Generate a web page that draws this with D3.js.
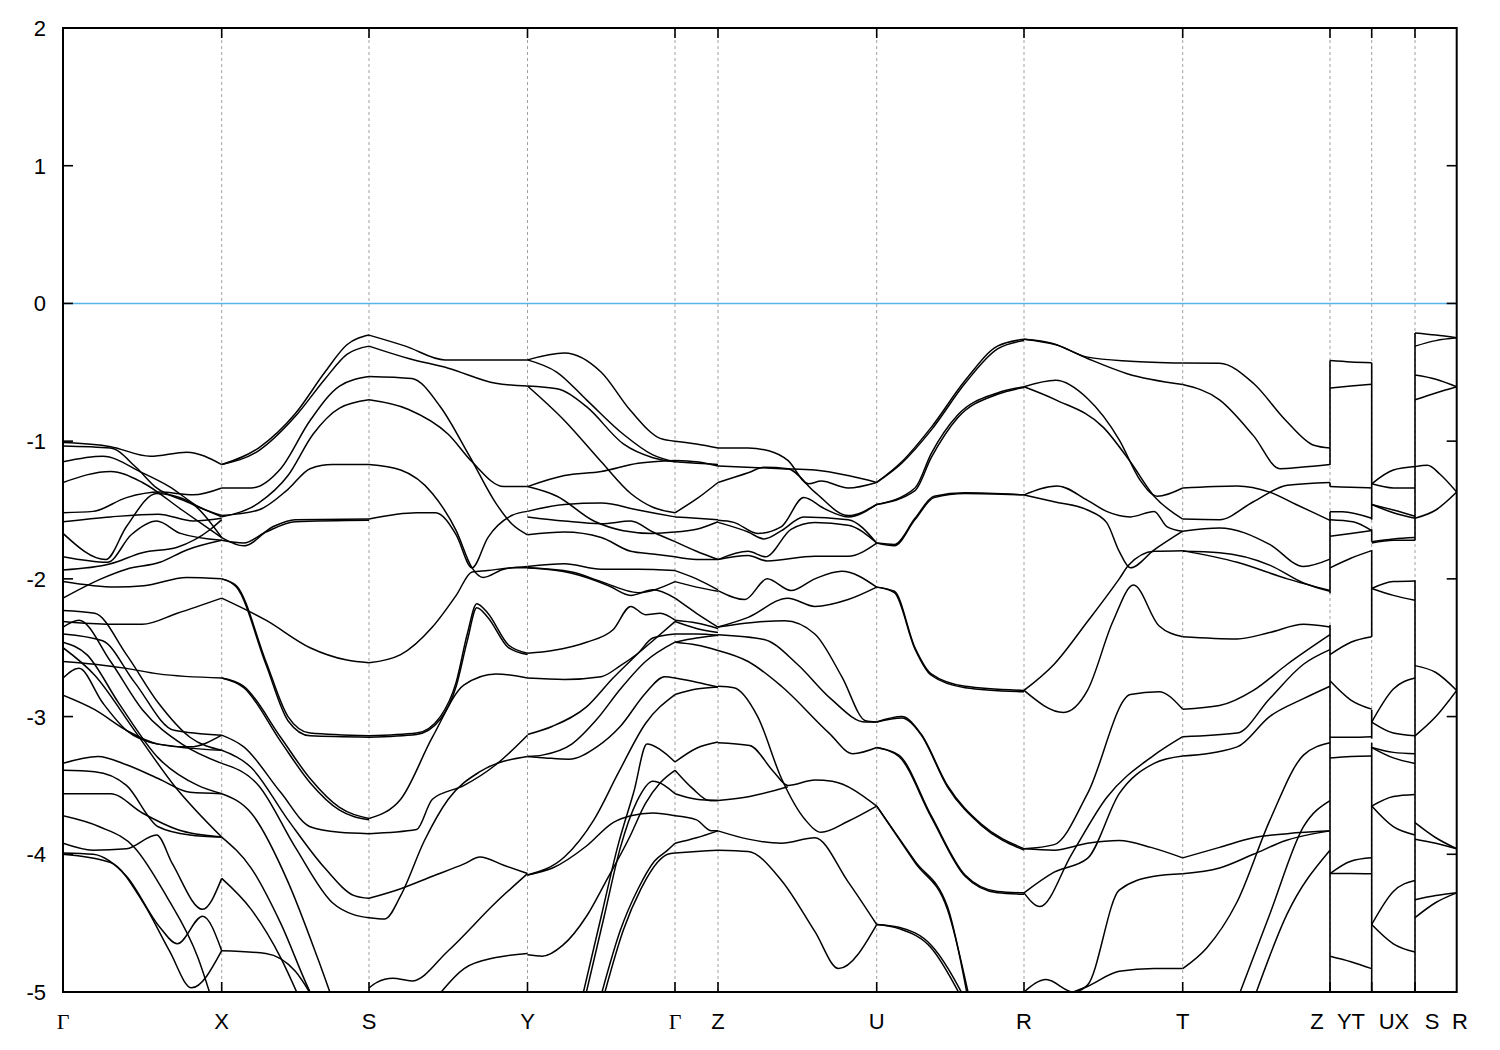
<!DOCTYPE html>
<html><head><meta charset="utf-8">
<script src="https://cdn.jsdelivr.net/npm/d3@7"></script>
<style>
html,body{margin:0;padding:0;background:#fff;}
text{font-family:"Liberation Sans",Arial,sans-serif;}
</style></head>
<body><svg id="c" width="1500" height="1050"></svg>
<script>
// ---- high-symmetry path (k distance) ----
const kPoints = [0, 0.1587, 0.306, 0.4645, 0.612, 0.655, 0.8137, 0.961, 1.1197, 1.267, 1.3087, 1.352, 1.3937];
const xLabelText = ["Γ","X","S","Y","Γ","Z","U","R","T","Z","YT","UX","S","R"];
const xLabelK = [0, 0.1587, 0.306, 0.4645, 0.612, 0.655, 0.8137, 0.961, 1.1197, 1.254, 1.288, 1.331, 1.369, 1.397];
const yTicks = [2, 1, 0, -1, -2, -3, -4, -5];
const eRange = [-5, 2];
const fermiLevel = 0;
// segment endpoints as indices into kPoints
const segFrom = [0,1,2,3,4,5,6,7,8,9,10,11];
const segTo   = [1,2,3,4,5,6,7,8,9,10,11,12];

// ---- bands per segment: [t (fraction along segment), E (eV)] ----
const segGX = [
 [[0,-1.01],[.3,-1.04],[.55,-1.11],[.78,-1.08],[1,-1.17]],
 [[0,-1.035],[.3,-1.05],[.46,-1.19],[.59,-1.34],[.78,-1.44],[1,-1.55]],
 [[0,-1.15],[.25,-1.11],[.5,-1.23],[.67,-1.33],[.86,-1.48],[1,-1.54]],
 [[0,-1.30],[.3,-1.22],[.5,-1.30],[.75,-1.50],[1,-1.70]],
 [[0,-1.52],[.19,-1.51],[.4,-1.41],[.61,-1.37],[.82,-1.39],[1,-1.34]],
 [[0,-1.585],[.3,-1.55],[.6,-1.53],[.82,-1.58],[1,-1.56]],
 [[0,-1.67],[.27,-1.86],[.4,-1.62],[.59,-1.38],[.78,-1.43],[1,-1.70]],
 [[0,-1.84],[.28,-1.88],[.43,-1.68],[.59,-1.58],[.74,-1.67],[1,-1.72]],
 [[0,-1.935],[.3,-1.89],[.5,-1.81],[.72,-1.77],[.93,-1.64],[1,-1.57]],
 [[0,-2.02],[.33,-2.06],[.51,-2.05],[.78,-1.99],[1,-2.0]],
 [[0,-2.14],[.24,-2.0],[.4,-1.93],[.61,-1.88],[.78,-1.79],[1,-1.72]],
 [[0,-2.31],[.3,-2.33],[.5,-2.33],[.72,-2.25],[1,-2.14]],
 [[0,-2.23],[.2,-2.25],[.4,-2.55],[.6,-2.9],[.8,-3.15],[1,-3.245]],
 [[0,-2.35],[.1,-2.30],[.3,-2.6],[.5,-2.95],[.75,-3.2],[1,-3.34]],
 [[0,-2.40],[.25,-2.45],[.45,-2.75],[.7,-3.1],[1,-3.135]],
 [[0,-2.46],[.15,-2.55],[.35,-2.9],[.6,-3.3],[.85,-3.5],[1,-3.56]],
 [[0,-2.50],[.2,-2.7],[.45,-3.1],[.7,-3.5],[1,-3.875]],
 [[0,-2.60],[.2,-2.62],[.4,-2.65],[.6,-2.69],[1,-2.72]],
 [[0,-2.72],[.1,-2.65],[.25,-2.9],[.4,-3.1],[.6,-3.2],[1,-3.245]],
 [[0,-2.845],[.2,-2.95],[.4,-3.1],[.6,-3.2],[.8,-3.22],[1,-3.135]],
 [[0,-3.34],[.22,-3.29],[.4,-3.35],[.6,-3.45],[.8,-3.55],[1,-3.56]],
 [[0,-3.39],[.2,-3.40],[.4,-3.5],[.6,-3.8],[.8,-3.86],[1,-3.875]],
 [[0,-3.56],[.3,-3.56],[.5,-3.7],[.72,-3.82],[1,-3.875]],
 [[0,-3.72],[.23,-3.80],[.45,-3.95],[.65,-4.3],[.85,-4.75],[.95,-5.1]],
 [[0,-3.92],[.19,-3.97],[.4,-3.96],[.59,-3.86],[.69,-4.07],[.88,-4.40],[1,-4.175]],
 [[0,-3.99],[.19,-4.0],[.4,-4.16],[.61,-4.53],[.72,-4.65],[.88,-4.45],[1,-4.70]],
 [[0,-4.0],[.3,-4.06],[.51,-4.36],[.67,-4.70],[.81,-4.97],[1,-4.70]]
];
const segXS = [
 [[0,-1.17],[.25,-1.05],[.5,-0.80],[.7,-0.50],[.85,-0.30],[1,-0.23]],
 [[0,-1.17],[.25,-1.07],[.5,-0.82],[.7,-0.55],[.85,-0.37],[1,-0.31]],
 [[0,-1.34],[.2,-1.34],[.4,-1.2],[.6,-0.85],[.8,-0.6],[1,-0.53]],
 [[0,-1.55],[.25,-1.45],[.45,-1.25],[.62,-0.95],[.8,-0.76],[1,-0.70]],
 [[0,-1.54],[.25,-1.5],[.45,-1.35],[.6,-1.2],[.75,-1.17],[1,-1.17]],
 [[0,-1.70],[.15,-1.76],[.35,-1.62],[.5,-1.57],[1,-1.565]],
 [[0,-1.72],[.15,-1.74],[.3,-1.66],[.5,-1.585],[1,-1.575]],
 [[0,-2.0],[.1,-2.05],[.3,-2.6],[.45,-3.0],[.6,-3.12],[1,-3.14]],
 [[0,-2.0],[.1,-2.06],[.3,-2.62],[.45,-3.03],[.6,-3.14],[1,-3.15]],
 [[0,-2.14],[.3,-2.3],[.6,-2.5],[.85,-2.59],[1,-2.61]],
 [[0,-2.72],[.15,-2.78],[.4,-3.15],[.6,-3.45],[.8,-3.66],[1,-3.74]],
 [[0,-2.72],[.15,-2.79],[.4,-3.18],[.6,-3.48],[.8,-3.68],[1,-3.75]],
 [[0,-3.135],[.15,-3.22],[.4,-3.55],[.6,-3.8],[.8,-3.84],[1,-3.85]],
 [[0,-3.245],[.2,-3.37],[.45,-3.75],[.7,-4.1],[.9,-4.3],[1,-4.32]],
 [[0,-3.34],[.25,-3.5],[.5,-3.95],[.75,-4.35],[.9,-4.44],[1,-4.46]],
 [[0,-3.56],[.2,-3.7],[.45,-4.2],[.65,-4.75],[.8,-5.2]],
 [[0,-3.875],[.2,-4.1],[.4,-4.5],[.6,-5.0],[.7,-5.2]],
 [[0,-4.175],[.2,-4.4],[.4,-4.75],[.55,-5.1]],
 [[0,-4.70],[.3,-4.72],[.5,-4.85],[.65,-5.1]]
];
const segSY = [
 [[0,-0.23],[.23,-0.31],[.48,-0.41],[.75,-0.41],[1,-0.41]],
 [[0,-0.31],[.25,-0.40],[.5,-0.47],[.8,-0.58],[1,-0.60]],
 [[0,-0.53],[.27,-0.545],[.45,-0.75],[.63,-1.1],[.8,-1.45],[.9,-1.60],[1,-1.68]],
 [[0,-0.70],[.25,-0.77],[.5,-0.95],[.65,-1.15],[.85,-1.33],[1,-1.33]],
 [[0,-1.17],[.2,-1.21],[.4,-1.38],[.55,-1.65],[.65,-1.92],[.72,-1.99],[.85,-1.93],[1,-1.91]],
 [[0,-1.565],[.3,-1.52],[.42,-1.52],[.55,-1.68],[.65,-1.92],[.75,-1.70],[.9,-1.54],[1,-1.51]],
 [[0,-2.61],[.2,-2.55],[.4,-2.35],[.55,-2.12],[.65,-1.95],[.75,-1.94],[.9,-1.92],[1,-1.92]],
 [[0,-3.14],[.3,-3.12],[.45,-3.0],[.55,-2.75],[.62,-2.40],[.68,-2.18],[.75,-2.25],[.88,-2.48],[1,-2.54]],
 [[0,-3.15],[.3,-3.13],[.45,-3.02],[.55,-2.78],[.62,-2.45],[.68,-2.21],[.75,-2.28],[.88,-2.50],[1,-2.55]],
 [[0,-3.74],[.2,-3.6],[.4,-3.15],[.6,-2.77],[.8,-2.69],[1,-2.72]],
 [[0,-3.85],[.3,-3.82],[.4,-3.6],[.6,-3.5],[.8,-3.35],[1,-3.135]],
 [[0,-4.32],[.2,-4.25],[.4,-4.16],[.6,-4.07],[.7,-4.02],[.85,-4.08],[1,-4.14]],
 [[0,-4.46],[.1,-4.47],[.2,-4.3],[.35,-3.9],[.5,-3.6],[.7,-3.4],[1,-3.29]],
 [[0,-4.97],[.05,-4.93],[.15,-4.90],[.27,-4.92],[.5,-4.7],[.8,-4.35],[1,-4.14]],
 [[.42,-5.05],[.6,-4.83],[.8,-4.75],[1,-4.72]]
];
const segYG = [
 [[0,-0.41],[.25,-0.36],[.5,-0.50],[.7,-0.78],[.9,-0.98],[1,-1.0]],
 [[0,-0.41],[.2,-0.50],[.4,-0.70],[.65,-0.95],[.85,-1.10],[1,-1.15]],
 [[0,-0.60],[.2,-0.62],[.4,-0.75],[.65,-1.02],[.85,-1.12],[1,-1.15]],
 [[0,-0.60],[.25,-0.85],[.5,-1.15],[.7,-1.38],[.85,-1.48],[1,-1.52]],
 [[0,-1.33],[.25,-1.25],[.5,-1.22],[.75,-1.16],[1,-1.14]],
 [[0,-1.33],[.2,-1.40],[.45,-1.58],[.65,-1.65],[.85,-1.67],[1,-1.66]],
 [[0,-1.51],[.25,-1.46],[.5,-1.45],[.75,-1.50],[1,-1.55]],
 [[0,-1.55],[.25,-1.58],[.5,-1.60],[.7,-1.58],[.85,-1.66],[1,-1.73]],
 [[0,-1.68],[.25,-1.66],[.5,-1.70],[.7,-1.80],[.85,-1.82],[1,-1.84]],
 [[0,-1.91],[.25,-1.89],[.5,-1.93],[.75,-1.93],[1,-1.94]],
 [[0,-1.92],[.3,-1.95],[.5,-2.02],[.75,-2.1],[1,-2.02]],
 [[0,-1.92],[.3,-1.96],[.55,-2.05],[.7,-2.12],[.85,-2.08],[1,-2.14]],
 [[0,-2.54],[.17,-2.52],[.4,-2.46],[.58,-2.37],[.7,-2.20],[.8,-2.26],[.9,-2.25],[1,-2.30]],
 [[0,-2.72],[.25,-2.73],[.5,-2.71],[.63,-2.63],[.75,-2.54],[.86,-2.44],[1,-2.31]],
 [[0,-3.13],[.17,-3.07],[.4,-2.93],[.58,-2.72],[.75,-2.54],[.85,-2.43],[1,-2.40]],
 [[0,-3.29],[.1,-3.28],[.3,-3.20],[.47,-3.02],[.63,-2.80],[.8,-2.60],[1,-2.46]],
 [[0,-3.29],[.12,-3.30],[.28,-3.31],[.47,-3.22],[.63,-3.07],[.8,-2.83],[.93,-2.71],[1,-2.72]],
 [[0,-4.15],[.17,-4.10],[.4,-3.94],[.58,-3.77],[.7,-3.72],[.85,-3.70],[1,-3.72]],
 [[0,-4.15],[.25,-4.02],[.45,-3.75],[.62,-3.40],[.8,-3.05],[1,-2.84]],
 [[0,-4.73],[.1,-4.74],[.24,-4.66],[.4,-4.45],[.53,-4.2],[.69,-3.88],[.8,-3.63],[.9,-3.48],[1,-3.39]],
 [[.375,-5.02],[.5,-4.45],[.61,-3.95],[.72,-3.55],[.81,-3.20],[.9,-3.24],[1,-3.33]],
 [[.395,-5.02],[.52,-4.45],[.63,-3.95],[.74,-3.62],[.85,-3.47],[1,-3.56]],
 [[.5,-5.02],[.63,-4.55],[.75,-4.25],[.86,-4.05],[.95,-3.97],[1,-3.92]],
 [[.52,-5.02],[.65,-4.55],[.77,-4.25],[.88,-4.06],[.95,-4.0],[1,-3.99]]
];
const segGZ = [
 [[0,-1.0],[.5,-1.02],[1,-1.05]],
 [[0,-1.15],[.5,-1.16],[1,-1.17]],
 [[0,-1.14],[.5,-1.15],[1,-1.18]],
 [[0,-1.52],[.5,-1.42],[1,-1.30]],
 [[0,-1.55],[.5,-1.56],[1,-1.57]],
 [[0,-1.66],[.5,-1.64],[1,-1.585]],
 [[0,-1.73],[.5,-1.80],[1,-1.86]],
 [[0,-1.84],[.5,-1.86],[1,-1.86]],
 [[0,-1.94],[.5,-2.0],[1,-2.08]],
 [[0,-2.02],[.5,-2.06],[1,-2.09]],
 [[0,-2.14],[.5,-2.25],[1,-2.35]],
 [[0,-2.30],[.5,-2.32],[1,-2.36]],
 [[0,-2.31],[.5,-2.36],[1,-2.39]],
 [[0,-2.40],[.5,-2.40],[1,-2.41]],
 [[0,-2.46],[.5,-2.48],[1,-2.52]],
 [[0,-2.46],[.5,-2.43],[1,-2.41]],
 [[0,-2.72],[.5,-2.75],[1,-2.785]],
 [[0,-2.84],[.5,-2.80],[1,-2.785]],
 [[0,-3.33],[.5,-3.23],[1,-3.185]],
 [[0,-3.39],[.4,-3.52],[.8,-3.61],[1,-3.61]],
 [[0,-3.56],[.5,-3.60],[1,-3.61]],
 [[0,-3.72],[.5,-3.75],[.85,-3.83],[1,-3.83]],
 [[0,-3.92],[.5,-3.88],[1,-3.83]],
 [[0,-3.99],[.5,-3.98],[1,-3.97]]
];
const segZU = [
 [[0,-1.05],[.19,-1.05],[.32,-1.07],[.44,-1.14],[.57,-1.31],[.65,-1.29],[.82,-1.34],[1,-1.30]],
 [[0,-1.18],[.4,-1.20],[.61,-1.21],[.82,-1.25],[1,-1.30]],
 [[0,-1.30],[.19,-1.23],[.29,-1.19],[.44,-1.20],[.61,-1.37],[.82,-1.54],[1,-1.46]],
 [[0,-1.575],[.1,-1.59],[.25,-1.67],[.4,-1.62],[.54,-1.41],[.67,-1.49],[.82,-1.55],[1,-1.46]],
 [[0,-1.59],[.19,-1.66],[.29,-1.71],[.4,-1.65],[.54,-1.55],[.82,-1.57],[1,-1.74]],
 [[0,-1.86],[.19,-1.80],[.3,-1.84],[.46,-1.64],[.61,-1.59],[.82,-1.61],[1,-1.74]],
 [[0,-1.86],[.19,-1.83],[.31,-1.87],[.61,-1.835],[.82,-1.835],[1,-1.74]],
 [[0,-2.085],[.17,-2.15],[.31,-2.0],[.46,-2.085],[.61,-2.0],[.78,-1.945],[1,-2.06]],
 [[0,-2.35],[.19,-2.28],[.44,-2.14],[.61,-2.20],[.82,-2.15],[1,-2.06]],
 [[0,-2.35],[.29,-2.31],[.42,-2.305],[.61,-2.40],[.78,-2.71],[.93,-3.03],[1,-3.04]],
 [[0,-2.405],[.29,-2.44],[.5,-2.62],[.71,-2.87],[.93,-3.04],[1,-3.04]],
 [[0,-2.52],[.19,-2.60],[.4,-2.78],[.7,-3.12],[.85,-3.27],[1,-3.225]],
 [[0,-2.78],[.1,-2.79],[.25,-3.0],[.4,-3.45],[.55,-3.75],[.65,-3.84],[.82,-3.76],[1,-3.65]],
 [[0,-3.19],[.2,-3.21],[.35,-3.40],[.44,-3.50],[.61,-3.46],[.72,-3.47],[1,-3.65]],
 [[0,-3.61],[.2,-3.58],[.44,-3.51]],
 [[0,-3.83],[.19,-3.89],[.4,-3.92],[.61,-3.88],[.82,-4.2],[1,-4.51]],
 [[0,-3.97],[.19,-3.98],[.4,-4.19],[.61,-4.56],[.76,-4.83],[1,-4.51]]
];
const segUR = [
 [[0,-1.30],[.17,-1.15],[.37,-0.90],[.6,-0.56],[.82,-0.31],[1,-0.26]],
 [[0,-1.30],[.17,-1.16],[.37,-0.92],[.6,-0.58],[.82,-0.33],[1,-0.27]],
 [[0,-1.46],[.26,-1.34],[.37,-1.09],[.55,-0.81],[.82,-0.65],[1,-0.605]],
 [[0,-1.46],[.26,-1.36],[.37,-1.12],[.55,-0.83],[.82,-0.66],[1,-0.61]],
 [[0,-1.74],[.12,-1.75],[.26,-1.56],[.39,-1.40],[.6,-1.375],[1,-1.39]],
 [[0,-1.74],[.12,-1.76],[.26,-1.57],[.39,-1.41],[.6,-1.38],[1,-1.39]],
 [[0,-2.06],[.12,-2.09],[.26,-2.5],[.37,-2.69],[.6,-2.78],[1,-2.81]],
 [[0,-2.06],[.12,-2.10],[.26,-2.51],[.37,-2.70],[.6,-2.79],[1,-2.82]],
 [[0,-3.04],[.17,-3.0],[.3,-3.125],[.48,-3.50],[.71,-3.78],[1,-3.96]],
 [[0,-3.04],[.17,-3.01],[.3,-3.13],[.48,-3.51],[.71,-3.79],[1,-3.97]],
 [[0,-3.225],[.15,-3.28],[.37,-3.72],[.6,-4.15],[.82,-4.27],[1,-4.28]],
 [[0,-3.225],[.15,-3.29],[.37,-3.73],[.6,-4.16],[.82,-4.28],[1,-4.29]],
 [[0,-3.65],[.26,-4.05],[.48,-4.38],[.62,-5.05]],
 [[0,-3.65],[.26,-4.06],[.48,-4.40],[.63,-5.05]],
 [[0,-4.51],[.15,-4.53],[.37,-4.66],[.6,-5.05]],
 [[0,-4.51],[.15,-4.54],[.37,-4.68],[.58,-5.05]]
];
const segRT = [
 [[0,-0.26],[.2,-0.30],[.4,-0.39],[.67,-0.42],[1,-0.433]],
 [[0,-0.26],[.18,-0.29],[.4,-0.40],[.65,-0.51],[1,-0.589]],
 [[0,-0.605],[.2,-0.558],[.4,-0.69],[.6,-0.99],[.73,-1.28],[.84,-1.40],[1,-1.34]],
 [[0,-0.605],[.2,-0.70],[.5,-0.90],[.67,-1.15],[.82,-1.40],[1,-1.566]],
 [[0,-1.39],[.21,-1.325],[.4,-1.43],[.52,-1.51],[.67,-1.55],[.82,-1.51],[.9,-1.62],[1,-1.654]],
 [[0,-1.39],[.19,-1.44],[.4,-1.50],[.52,-1.59],[.6,-1.80],[.67,-1.92],[.82,-1.79],[1,-1.654]],
 [[0,-2.81],[.19,-2.62],[.4,-2.31],[.6,-2.0],[.66,-1.90],[.82,-1.80],[1,-1.795]],
 [[0,-2.81],[.25,-2.97],[.4,-2.81],[.56,-2.31],[.69,-2.045],[.85,-2.34],[1,-2.42]],
 [[0,-3.96],[.19,-3.93],[.4,-3.56],[.67,-2.84],[.85,-2.82],[1,-2.946]],
 [[0,-3.96],[.19,-3.97],[.4,-3.92],[.6,-3.90],[.8,-3.95],[1,-4.026]],
 [[0,-4.28],[.1,-4.38],[.3,-4.0],[.52,-3.59],[.82,-3.28],[1,-3.146]],
 [[0,-4.28],[.19,-4.13],[.4,-4.03],[.6,-3.56],[.82,-3.34],[1,-3.287]],
 [[0,-5.0],[.14,-4.91],[.31,-5.0],[.4,-4.95],[.6,-4.26],[.82,-4.16],[1,-4.142]],
 [[.31,-5.0],[.4,-4.96],[.6,-4.85],[.82,-4.83],[1,-4.83]]
];
const segTZ = [
 [[0,-0.433],[.25,-0.435],[.48,-0.58],[.7,-0.85],[.89,-1.03],[1,-1.05]],
 [[0,-0.589],[.25,-0.70],[.48,-0.96],[.66,-1.20],[.8,-1.19],[1,-1.17]],
 [[0,-1.34],[.37,-1.325],[.59,-1.37],[.77,-1.46],[1,-1.575]],
 [[0,-1.566],[.25,-1.57],[.48,-1.44],[.71,-1.32],[1,-1.30]],
 [[0,-1.654],[.25,-1.63],[.59,-1.75],[.82,-1.91],[1,-1.857]],
 [[0,-1.795],[.37,-1.88],[.71,-2.0],[1,-2.085]],
 [[0,-1.80],[.25,-1.81],[.59,-1.90],[.82,-2.03],[1,-2.09]],
 [[0,-2.42],[.37,-2.436],[.59,-2.39],[.82,-2.33],[1,-2.35]],
 [[0,-2.946],[.25,-2.92],[.48,-2.81],[.71,-2.62],[1,-2.405]],
 [[0,-3.146],[.37,-3.12],[.59,-2.87],[.82,-2.62],[1,-2.514]],
 [[0,-3.287],[.37,-3.22],[.59,-3.0],[.82,-2.87],[1,-2.78]],
 [[0,-4.026],[.25,-3.95],[.48,-3.88],[.71,-3.85],[1,-3.83]],
 [[0,-4.142],[.25,-4.10],[.48,-4.0],[.7,-3.90],[1,-3.83]],
 [[0,-4.83],[.163,-4.68],[.367,-4.35],[.593,-3.75],[.82,-3.28],[1,-3.19]],
 [[.39,-5.0],[.593,-4.43],[.82,-3.80],[1,-3.61]],
 [[.5,-5.0],[.706,-4.44],[1,-3.97]]
];
const segYT = [
 [[0,-0.415],[.5,-0.425],[1,-0.43]],
 [[0,-0.615],[.5,-0.60],[1,-0.586]],
 [[0,-1.33],[.5,-1.335],[1,-1.34]],
 [[0,-1.512],[.3,-1.512],[1,-1.56]],
 [[0,-1.57],[.55,-1.585],[1,-1.65]],
 [[0,-1.69],[.5,-1.67],[1,-1.65]],
 [[0,-1.92],[.5,-1.85],[1,-1.795]],
 [[0,-2.55],[.5,-2.46],[1,-2.42]],
 [[0,-2.74],[.5,-2.88],[1,-2.946]],
 [[0,-3.15],[.5,-3.15],[1,-3.146]],
 [[0,-3.30],[.5,-3.29],[1,-3.287]],
 [[0,-4.14],[.5,-4.05],[1,-4.026]],
 [[0,-4.14],[.5,-4.14],[1,-4.142]],
 [[0,-4.74],[.5,-4.78],[1,-4.83]]
];
const segUX = [
 [[0,-1.31],[.5,-1.21],[1,-1.185]],
 [[0,-1.31],[.5,-1.34],[1,-1.34]],
 [[0,-1.46],[.5,-1.50],[1,-1.545]],
 [[0,-1.46],[.5,-1.52],[1,-1.56]],
 [[0,-1.73],[.5,-1.71],[1,-1.70]],
 [[0,-1.74],[.5,-1.72],[1,-1.72]],
 [[0,-2.07],[.5,-2.02],[1,-2.015]],
 [[0,-2.07],[.5,-2.12],[1,-2.155]],
 [[0,-3.04],[.5,-2.80],[1,-2.72]],
 [[0,-3.04],[.5,-3.12],[1,-3.14]],
 [[0,-3.225],[.5,-3.26],[1,-3.27]],
 [[0,-3.225],[.5,-3.30],[1,-3.34]],
 [[0,-3.65],[.5,-3.58],[1,-3.565]],
 [[0,-3.65],[.5,-3.80],[1,-3.86]],
 [[0,-4.51],[.5,-4.27],[1,-4.19]],
 [[0,-4.51],[.5,-4.65],[1,-4.71]]
];
const segSR = [
 [[0,-0.215],[.5,-0.23],[1,-0.25]],
 [[0,-0.31],[.5,-0.27],[1,-0.25]],
 [[0,-0.52],[.5,-0.55],[1,-0.605]],
 [[0,-0.70],[.5,-0.65],[1,-0.605]],
 [[0,-1.185],[.3,-1.175],[.6,-1.24],[1,-1.37]],
 [[0,-1.56],[.5,-1.50],[1,-1.37]],
 [[0,-2.63],[.5,-2.68],[1,-2.81]],
 [[0,-3.14],[.5,-3.0],[1,-2.81]],
 [[0,-3.77],[.5,-3.88],[1,-3.96]],
 [[0,-3.89],[.5,-3.92],[1,-3.96]],
 [[0,-4.33],[.5,-4.30],[1,-4.28]],
 [[0,-4.46],[.5,-4.35],[1,-4.28]]
];
const segmentBands = [segGX, segXS, segSY, segYG, segGZ, segZU, segUR, segRT, segTZ, segYT, segUX, segSR];

// discontinuity jumps: index into kPoints, [Etop, Ebottom] pieces
const jumpK = [9, 10, 11];
const jumpSpans = [
 [[-0.415,-1.173],[-1.30,-1.33],[-1.512,-2.105],[-2.335,-5.2]],
 [[-0.43,-1.57],[-1.64,-1.73],[-1.79,-2.42],[-2.95,-3.16],[-3.19,-5.2]],
 [[-0.215,-1.72],[-2.01,-5.2]]
];

// ---- drawing ----
const W = 1500, H = 1050;
const M = {left: 63, right: 1456.7, top: 28, bottom: 992};
const svg = d3.select("#c");
svg.append("rect").attr("width", W).attr("height", H).attr("fill", "#fff");

const x = d3.scaleLinear().domain([kPoints[0], kPoints[kPoints.length-1]]).range([M.left, M.right]);
const y = d3.scaleLinear().domain(eRange).range([M.bottom, M.top]);

svg.append("defs").append("clipPath").attr("id","clip")
  .append("rect").attr("x", M.left).attr("y", M.top)
  .attr("width", M.right - M.left).attr("height", M.bottom - M.top);

// dotted gridlines at interior high-symmetry points
const interior = kPoints.slice(1, -1);
svg.append("g").selectAll("line").data(interior).join("line")
  .attr("x1", d => x(d)).attr("x2", d => x(d))
  .attr("y1", M.top).attr("y2", M.bottom)
  .attr("stroke", "#a0a0a0").attr("stroke-width", 1).attr("stroke-dasharray", "3,3");

// Fermi level
svg.append("line").attr("x1", M.left).attr("x2", M.right)
  .attr("y1", y(fermiLevel)).attr("y2", y(fermiLevel))
  .attr("stroke", "#56b4e9").attr("stroke-width", 1.6);

// bands
const gB = svg.append("g").attr("clip-path", "url(#clip)");
const line = d3.line().x(d => x(d[0])).y(d => y(d[1])).curve(d3.curveMonotoneX);
segmentBands.forEach((bands, si) => {
  const k0 = kPoints[segFrom[si]], k1 = kPoints[segTo[si]];
  bands.forEach(b => {
    const pts = b.map(p => [k0 + p[0]*(k1-k0), p[1]]);
    gB.append("path").attr("d", line(pts))
      .attr("fill", "none").attr("stroke", "#000").attr("stroke-width", 1.5);
  });
});
jumpK.forEach((ki, j) => {
  jumpSpans[j].forEach(s => {
    gB.append("line").attr("x1", x(kPoints[ki])).attr("x2", x(kPoints[ki]))
      .attr("y1", y(s[0])).attr("y2", y(s[1]))
      .attr("stroke", "#000").attr("stroke-width", 1.6);
  });
});

// frame
svg.append("rect").attr("x", M.left).attr("y", M.top)
  .attr("width", M.right - M.left).attr("height", M.bottom - M.top)
  .attr("fill", "none").attr("stroke", "#000").attr("stroke-width", 2);

// ticks
const tl = 10;
const gT = svg.append("g").attr("stroke", "#000").attr("stroke-width", 1.6);
yTicks.forEach(v => {
  gT.append("line").attr("x1", M.left).attr("x2", M.left + tl).attr("y1", y(v)).attr("y2", y(v));
  gT.append("line").attr("x1", M.right).attr("x2", M.right - tl).attr("y1", y(v)).attr("y2", y(v));
});
interior.forEach(k => {
  gT.append("line").attr("x1", x(k)).attr("x2", x(k)).attr("y1", M.bottom).attr("y2", M.bottom - tl);
  gT.append("line").attr("x1", x(k)).attr("x2", x(k)).attr("y1", M.top).attr("y2", M.top + tl);
});

// y labels
svg.append("g").selectAll("text").data(yTicks).join("text")
  .attr("x", M.left - 17).attr("y", d => y(d) + 8)
  .attr("text-anchor", "end").attr("font-size", 22).attr("fill", "#000")
  .text(d => d);

// x labels
svg.append("g").selectAll("text").data(xLabelText).join("text")
  .attr("x", (d, i) => x(xLabelK[i])).attr("y", 1029)
  .attr("text-anchor", "middle").attr("font-size", 22).attr("fill", "#000")
  .style("font-family", d => d === "Γ" ? "'Liberation Serif','DejaVu Serif',serif" : null)
  .text(d => d);
</script></body></html>
